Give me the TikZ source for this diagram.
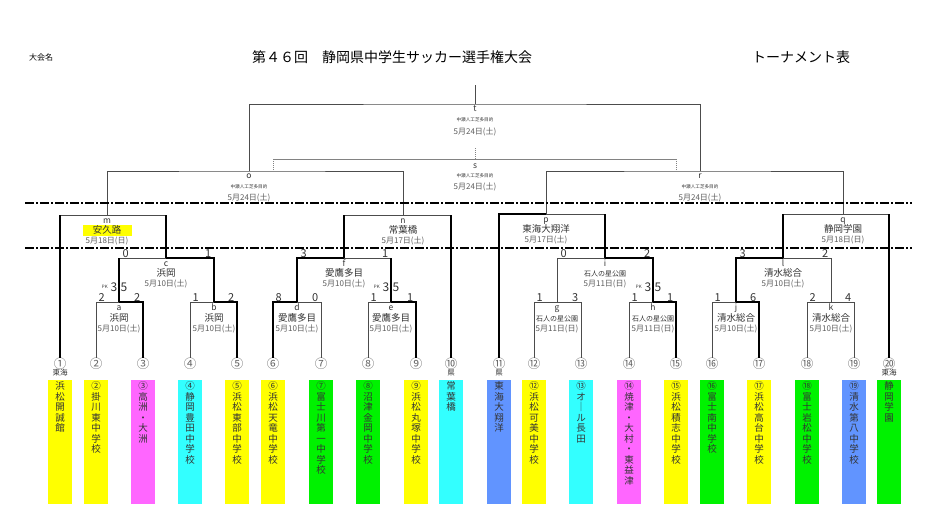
\documentclass[tikz,border=0pt]{standalone}
\usepackage{fontspec}
\setmainfont{Noto Sans CJK JP}
\usetikzlibrary{positioning}
\definecolor{linecolor}{rgb}{0.3,0.3,0.3}
\definecolor{lettercolor}{rgb}{0.2,0.2,0.2}
\definecolor{teamyellow}{rgb}{1,1,0}
\definecolor{teampink}{rgb}{1,0.4,1}
\definecolor{teamcyan}{rgb}{0.2,1,1}
\definecolor{teamgreen}{rgb}{0,0.95,0}
\definecolor{teamblue}{rgb}{0.38,0.58,1}
\makeatletter
\newcommand{\tate}[1]{\@tfor\tatechar:=#1\do{\tatechar\\}}
\makeatother
\tikzset{
	bracket/.style={
		draw=linecolor,
		line width=0.9pt
	},
	win/.style={
		draw=black,
		line width=2.4pt
	},
	faint/.style={
		draw=linecolor!70,
		line width=0.6pt
	},
	dotline/.style={
		draw=linecolor!70,
		line width=0.6pt,
		dash pattern=on 1pt off 1pt
	},
	cutline/.style={
		draw=black,
		line width=2.4pt,
		dash pattern=on 9pt off 2pt on 2pt off 2pt
	},
	letter/.style={
		font=\fontsize{8.5}{8.5}\selectfont,
		text=lettercolor,
		inner sep=0pt,
		text height=5.5pt,
		text depth=0pt
	},
	venue/.style={
		font=\fontsize{9.5}{9.5}\selectfont,
		text=lettercolor,
		inner sep=0pt,
		text height=7.5pt,
		text depth=1.5pt
	},
	park/.style={
		venue,
		font=\fontsize{7}{7}\selectfont
	},
	field/.style={
		font=\fontsize{4.6}{4.6}\selectfont,
		text=lettercolor,
		inner sep=0pt,
		text height=4pt,
		text depth=1pt
	},
	date/.style={
		font=\fontsize{8}{8}\selectfont,
		text=lettercolor!80,
		inner sep=0pt,
		text height=6.5pt,
		text depth=1.5pt
	},
	score/.style={
		font=\fontsize{11}{11}\selectfont,
		text=lettercolor,
		inner sep=0.5pt
	},
	pk/.style={
		font=\fontsize{12}{12}\selectfont,
		text=lettercolor,
		inner sep=0.5pt
	},
	pksmall/.style={
		font=\fontsize{4.5}{4.5}\selectfont,
		text=lettercolor,
		inner sep=0pt
	},
	teamno/.style={
		font=\fontsize{12.5}{12.5}\selectfont,
		text=black!60,
		inner sep=0pt
	},
	tag/.style={
		font=\fontsize{7.5}{7.5}\selectfont,
		text=lettercolor,
		inner sep=0pt
	},
	teambox/.style={
		rectangle,
		minimum width=24pt,
		minimum height=124pt,
		inner sep=0pt,
		anchor=north
	},
	tatetext/.style={
		anchor=north,
		align=center,
		inner sep=0pt,
		yshift=-1.5pt,
		font=\fontsize{9.5}{10.5}\selectfont,
		text=lettercolor
	},
}
\begin{document}
\begin{tikzpicture}[x=1pt,y=-1pt]
	\useasboundingbox (0,0) rectangle (933,531);
	\node[font=\fontsize{8}{8}\selectfont] (meta) at (41,57) {大会名};
	\node[font=\fontsize{14}{14}\selectfont] (title) at (392,57) {第４６回　静岡県中学生サッカー選手権大会};
	\node[font=\fontsize{14}{14}\selectfont] (kind) at (801,57) {トーナメント表};
	% team numbers
	\node[teamno] (no1) at (60,364) {①};
	\node[teamno] (no2) at (96,364) {②};
	\node[teamno] (no3) at (143,364) {③};
	\node[teamno] (no4) at (190,364) {④};
	\node[teamno] (no5) at (237,364) {⑤};
	\node[teamno] (no6) at (273,364) {⑥};
	\node[teamno] (no7) at (321,364) {⑦};
	\node[teamno] (no8) at (368,364) {⑧};
	\node[teamno] (no9) at (416,364) {⑨};
	\node[teamno] (no10) at (451,364) {⑩};
	\node[teamno] (no11) at (499,364) {⑪};
	\node[teamno] (no12) at (534,364) {⑫};
	\node[teamno] (no13) at (581,364) {⑬};
	\node[teamno] (no14) at (629,364) {⑭};
	\node[teamno] (no15) at (676,364) {⑮};
	\node[teamno] (no16) at (712,364) {⑯};
	\node[teamno] (no17) at (759,364) {⑰};
	\node[teamno] (no18) at (807,364) {⑱};
	\node[teamno] (no19) at (854,364) {⑲};
	\node[teamno] (no20) at (889,364) {⑳};
	% matches
	\coordinate (top) at (475,85);
	\coordinate (t) at (475,104);
	\coordinate (s0) at (475,148);
	\coordinate (s) at (475,159);
	\coordinate (sl) at (273,170);
	\coordinate (sr) at (676,170);
	\coordinate (o) at (249,171);
	\coordinate (r) at (700,171);
	\coordinate (m) at (107,215);
	\coordinate (n) at (403,215);
	\coordinate (p) at (546,214);
	\coordinate (q) at (843,214);
	\coordinate (c) at (166,258);
	\coordinate (f) at (344,258);
	\coordinate (i) at (605,258);
	\coordinate (l) at (783,258);
	\coordinate (a) at (119,302);
	\coordinate (b) at (214,302);
	\coordinate (d) at (297,302);
	\coordinate (e) at (391,302);
	\coordinate (g) at (557,302);
	\coordinate (h) at (653,302);
	\coordinate (j) at (736,302);
	\coordinate (k) at (831,302);
	% thin lines
	\draw[bracket] (top) -- (t);
	\draw[bracket] (o) |- (t) -| (r);
	\draw[faint] (sl |- s) -- (sr |- s);
	\draw[dotline] (sl) -- (sl |- s);
	\draw[dotline] (sr) -- (sr |- s);
	\draw[dotline] (s0) -- (s);
	\draw[bracket] (m) |- (o) -| (n);
	\draw[bracket] (p) |- (r) -| (q);
	\draw[bracket] (no1.north |- m) -- (c |- m);
	\draw[bracket] (a |- c) -- (c);
	\draw[bracket] (no2.north) |- (a);
	\draw[bracket] (no4.north) |- (b);
	\draw[bracket] (f |- n) -- (no10.north |- n);
	\draw[bracket] (e |- f) -- (f);
	\draw[bracket] (no7.north) |- (d);
	\draw[bracket] (no8.north) |- (e);
	\draw[bracket] (i |- p) -- (p);
	\draw[bracket] (g) |- (i);
	\draw[bracket] (no12.north) |- (g);
	\draw[bracket] (no13.north) |- (g);
	\draw[bracket] (no14.north) |- (h);
	\draw[bracket] (l |- q) -- (no20.north |- q);
	\draw[bracket] (k) |- (l);
	\draw[bracket] (no16.north) |- (j);
	\draw[bracket] (no18.north) |- (k);
	\draw[bracket] (no19.north) |- (k);
	% thick lines
	\draw[win] (no1.north) -- (no1.north |- m);
	\draw[win] (c |- m) -- (c);
	\draw[win] (a) -- (a |- c);
	\draw[win] (b) |- (c);
	\draw[win] (no3.north) |- (a);
	\draw[win] (no5.north) |- (b);
	\draw[win] (f) -- (f |- n);
	\draw[win] (no10.north |- n) -- (no10.north);
	\draw[win] (d) |- (f);
	\draw[win] (e) -- (e |- f);
	\draw[win] (no6.north) |- (d);
	\draw[win] (no9.north) |- (e);
	\draw[win] (no11.north) |- (p);
	\draw[win] (i) -- (i |- p);
	\draw[win] (h) |- (i);
	\draw[win] (no15.north) |- (h);
	\draw[win] (l) -- (l |- q);
	\draw[win] (no20.north |- q) -- (no20.north);
	\draw[win] (j) |- (l);
	\draw[win] (no17.north) |- (j);
	% cut lines
	\coordinate (cl1) at (25,203);
	\coordinate (cr1) at (912,203);
	\coordinate (cl2) at (25,248);
	\coordinate (cr2) at (912,248);
	\draw[cutline] (cl1) -- (cr1);
	\draw[cutline] (cl2) -- (cr2);
	% final rounds
	\node[letter, below=2pt of t] (t-l) {t};
	\node[field, below=5pt of t-l] (t-v) {中瀬人工芝多目的};
	\node[date, below=5pt of t-v] (t-d) {5月24日(土)};
	\node[letter, below=4pt of s] (s-l) {s};
	\node[field, below=4.5pt of s-l] (s-v) {中瀬人工芝多目的};
	\node[date, below=4pt of s-v] (s-d) {5月24日(土)};
	\node[letter, below=2pt of o] (o-l) {o};
	\node[field, below=5.5pt of o-l] (o-v) {中瀬人工芝多目的};
	\node[date, below=4pt of o-v] (o-d) {5月24日(土)};
	\node[letter, below=2pt of r] (r-l) {r};
	\node[field, below=5.5pt of r-l] (r-v) {中瀬人工芝多目的};
	\node[date, below=4pt of r-v] (r-d) {5月24日(土)};
	% block finals
	\node[letter, below=3pt of m] (m-l) {m};
	\node[venue, fill=teamyellow, minimum width=49pt, inner ysep=1pt, below=1pt of m-l] (m-v) {安久路};
	\node[date, below=0.5pt of m-v] (m-d) {5月18日(日)};
	\node[letter, below=3pt of n] (n-l) {n};
	\node[venue, below=2pt of n-l] (n-v) {常葉橋};
	\node[date, below=1.5pt of n-v] (n-d) {5月17日(土)};
	\node[letter, below=3pt of p] (p-l) {p};
	\node[venue, below=2pt of p-l] (p-v) {東海大翔洋};
	\node[date, below=1.5pt of p-v] (p-d) {5月17日(土)};
	\node[letter, below=3pt of q] (q-l) {q};
	\node[venue, below=2pt of q-l] (q-v) {静岡学園};
	\node[date, below=1.5pt of q-v] (q-d) {5月18日(日)};
	% second round
	\node[letter, below=2.5pt of c] (c-l) {c};
	\node[venue, below=2.5pt of c-l] (c-v) {浜岡};
	\node[date, below=1.5pt of c-v] (c-d) {5月10日(土)};
	\node[letter, below=2.5pt of f] (f-l) {f};
	\node[venue, below=2.5pt of f-l] (f-v) {愛鷹多目};
	\node[date, below=1.5pt of f-v] (f-d) {5月10日(土)};
	\node[letter, below=2.5pt of i] (i-l) {i};
	\node[park, below=2.5pt of i-l] (i-v) {石人の星公園};
	\node[date, below=1.5pt of i-v] (i-d) {5月11日(日)};
	\node[letter, below=2.5pt of l] (l-l) {l};
	\node[venue, below=2.5pt of l-l] (l-v) {清水総合};
	\node[date, below=1.5pt of l-v] (l-d) {5月10日(土)};
	% first round
	\node[letter, below=3pt of a] (a-l) {a};
	\node[venue, below=2.5pt of a-l] (a-v) {浜岡};
	\node[date, below=1.5pt of a-v] (a-d) {5月10日(土)};
	\node[letter, below=3pt of b] (b-l) {b};
	\node[venue, below=2.5pt of b-l] (b-v) {浜岡};
	\node[date, below=1.5pt of b-v] (b-d) {5月10日(土)};
	\node[letter, below=3pt of d] (d-l) {d};
	\node[venue, below=2.5pt of d-l] (d-v) {愛鷹多目};
	\node[date, below=1.5pt of d-v] (d-d) {5月10日(土)};
	\node[letter, below=3pt of e] (e-l) {e};
	\node[venue, below=2.5pt of e-l] (e-v) {愛鷹多目};
	\node[date, below=1.5pt of e-v] (e-d) {5月10日(土)};
	\node[letter, below=3pt of g] (g-l) {g};
	\node[park, below=2.5pt of g-l] (g-v) {石人の星公園};
	\node[date, below=1.5pt of g-v] (g-d) {5月11日(日)};
	\node[letter, below=3pt of h] (h-l) {h};
	\node[park, below=2.5pt of h-l] (h-v) {石人の星公園};
	\node[date, below=1.5pt of h-v] (h-d) {5月11日(日)};
	\node[letter, below=3pt of j] (j-l) {j};
	\node[venue, below=2.5pt of j-l] (j-v) {清水総合};
	\node[date, below=1.5pt of j-v] (j-d) {5月10日(土)};
	\node[letter, below=3pt of k] (k-l) {k};
	\node[venue, below=2.5pt of k-l] (k-v) {清水総合};
	\node[date, below=1.5pt of k-v] (k-d) {5月10日(土)};
	% scores
	\node[score, anchor=south west, xshift=2pt] (a-s1) at (no2.north |- a) {2};
	\node[score, anchor=south east, xshift=-2pt] (a-s2) at (no3.north |- a) {2};
	\node[score, anchor=south west, xshift=2pt] (b-s1) at (no4.north |- b) {1};
	\node[score, anchor=south east, xshift=-2pt] (b-s2) at (no5.north |- b) {2};
	\node[score, anchor=south west, xshift=2pt] (d-s1) at (no6.north |- d) {8};
	\node[score, anchor=south east, xshift=-2pt] (d-s2) at (no7.north |- d) {0};
	\node[score, anchor=south west, xshift=2pt] (e-s1) at (no8.north |- e) {1};
	\node[score, anchor=south east, xshift=-2pt] (e-s2) at (no9.north |- e) {1};
	\node[score, anchor=south west, xshift=2pt] (g-s1) at (no12.north |- g) {1};
	\node[score, anchor=south east, xshift=-2pt] (g-s2) at (no13.north |- g) {3};
	\node[score, anchor=south west, xshift=2pt] (h-s1) at (no14.north |- h) {1};
	\node[score, anchor=south east, xshift=-2pt] (h-s2) at (no15.north |- h) {1};
	\node[score, anchor=south west, xshift=2pt] (j-s1) at (no16.north |- j) {1};
	\node[score, anchor=south east, xshift=-2pt] (j-s2) at (no17.north |- j) {6};
	\node[score, anchor=south west, xshift=2pt] (k-s1) at (no18.north |- k) {2};
	\node[score, anchor=south east, xshift=-2pt] (k-s2) at (no19.north |- k) {4};
	\node[score, anchor=south west, xshift=3pt] (c-s1) at (a |- c) {0};
	\node[score, anchor=south east, xshift=-2pt] (c-s2) at (b |- c) {1};
	\node[score, anchor=south west, xshift=3pt] (f-s1) at (d |- f) {3};
	\node[score, anchor=south east, xshift=-2pt] (f-s2) at (e |- f) {1};
	\node[score, anchor=south west, xshift=3pt] (i-s1) at (g |- i) {0};
	\node[score, anchor=south east, xshift=-2pt] (i-s2) at (h |- i) {2};
	\node[score, anchor=south west, xshift=3pt] (l-s1) at (j |- l) {3};
	\node[score, anchor=south east, xshift=-2pt] (l-s2) at (k |- l) {2};
	% penalties
	\node[pk, above left=10pt and 1pt of a] (a-pk1) {3};
	\node[pk, above right=10pt and 1pt of a] (a-pk2) {5};
	\node[pksmall, left=2pt of a-pk1] (a-pk) {PK};
	\node[pk, above left=10pt and 1pt of e] (e-pk1) {3};
	\node[pk, above right=10pt and 1pt of e] (e-pk2) {5};
	\node[pksmall, left=2pt of e-pk1] (e-pk) {PK};
	\node[pk, above left=10pt and 1pt of h] (h-pk1) {3};
	\node[pk, above right=10pt and 1pt of h] (h-pk2) {5};
	\node[pksmall, left=2pt of h-pk1] (h-pk) {PK};
	% teams
	\node[tag] (tag1) at (60,373) {東海};
	\node[tag] (tag10) at (451,373) {県};
	\node[tag] (tag11) at (499,373) {県};
	\node[tag] (tag20) at (889,373) {東海};
	\node[teambox, fill=teamyellow] (box1) at (60,380) {};
	\node[tatetext] (nm1) at (box1.north) {\tate{浜松開誠館}};
	\node[teambox, fill=teamyellow] (box2) at (96,380) {};
	\node[tatetext] (nm2) at (box2.north) {\tate{②掛川東中学校}};
	\node[teambox, fill=teampink] (box3) at (143,380) {};
	\node[tatetext] (nm3) at (box3.north) {\tate{③高洲・大洲}};
	\node[teambox, fill=teamcyan] (box4) at (190,380) {};
	\node[tatetext] (nm4) at (box4.north) {\tate{④静岡豊田中学校}};
	\node[teambox, fill=teamyellow] (box5) at (237,380) {};
	\node[tatetext] (nm5) at (box5.north) {\tate{⑤浜松東部中学校}};
	\node[teambox, fill=teamyellow] (box6) at (273,380) {};
	\node[tatetext] (nm6) at (box6.north) {\tate{⑥浜松天竜中学校}};
	\node[teambox, fill=teamgreen] (box7) at (321,380) {};
	\node[tatetext] (nm7) at (box7.north) {\tate{⑦富士川第一中学校}};
	\node[teambox, fill=teamgreen] (box8) at (368,380) {};
	\node[tatetext] (nm8) at (box8.north) {\tate{⑧沼津金岡中学校}};
	\node[teambox, fill=teamyellow] (box9) at (416,380) {};
	\node[tatetext] (nm9) at (box9.north) {\tate{⑨浜松丸塚中学校}};
	\node[teambox, fill=teamcyan] (box10) at (451,380) {};
	\node[tatetext] (nm10) at (box10.north) {\tate{常葉橋}};
	\node[teambox, fill=teamblue] (box11) at (499,380) {};
	\node[tatetext] (nm11) at (box11.north) {\tate{東海大翔洋}};
	\node[teambox, fill=teamyellow] (box12) at (534,380) {};
	\node[tatetext] (nm12) at (box12.north) {\tate{⑫浜松可美中学校}};
	\node[teambox, fill=teamcyan] (box13) at (581,380) {};
	\node[tatetext] (nm13) at (box13.north) {\tate{⑬オ｜ル長田}};
	\node[teambox, fill=teampink] (box14) at (629,380) {};
	\node[tatetext] (nm14) at (box14.north) {\tate{⑭焼津・大村・東益津}};
	\node[teambox, fill=teamyellow] (box15) at (676,380) {};
	\node[tatetext] (nm15) at (box15.north) {\tate{⑮浜松積志中学校}};
	\node[teambox, fill=teamgreen] (box16) at (712,380) {};
	\node[tatetext] (nm16) at (box16.north) {\tate{⑯富士南中学校}};
	\node[teambox, fill=teamyellow] (box17) at (759,380) {};
	\node[tatetext] (nm17) at (box17.north) {\tate{⑰浜松高台中学校}};
	\node[teambox, fill=teamgreen] (box18) at (807,380) {};
	\node[tatetext] (nm18) at (box18.north) {\tate{⑱富士岩松中学校}};
	\node[teambox, fill=teamblue] (box19) at (854,380) {};
	\node[tatetext] (nm19) at (box19.north) {\tate{⑲清水第八中学校}};
	\node[teambox, fill=teamgreen] (box20) at (889,380) {};
	\node[tatetext] (nm20) at (box20.north) {\tate{静岡学園}};
\end{tikzpicture}
\end{document}
